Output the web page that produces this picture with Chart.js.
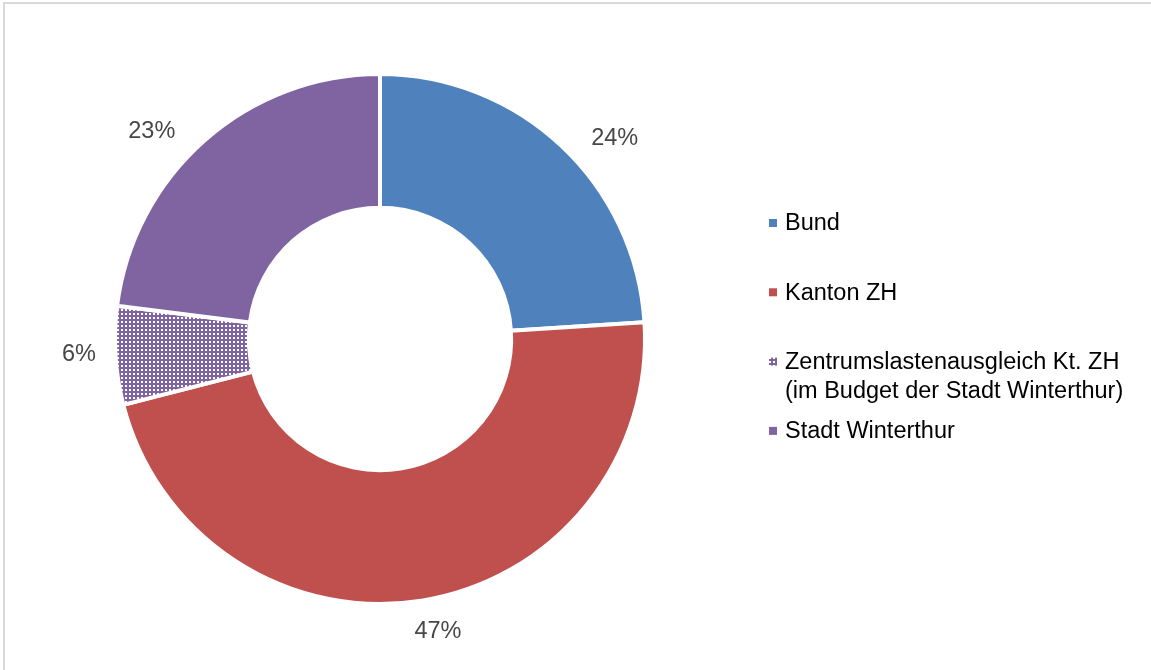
<!DOCTYPE html>
<html>
<head>
<meta charset="utf-8">
<script src="https://cdn.jsdelivr.net/npm/chart.js@4/dist/chart.umd.min.js"></script>
<style>
  html, body { margin: 0; padding: 0; background: #fff; }
  #wrap {
    position: absolute; left: 0; top: 0; width: 1151px; height: 670px;
  }
  #frame {
    position: absolute; left: 3px; top: 2px; right: 0; bottom: 0;
    border-top: 2px solid #d9d9d9; border-left: 2px solid #d9d9d9;
  }
  canvas { position: absolute; left: 0; top: 0; }
</style>
</head>
<body>
<div id="wrap">
  <div id="frame"></div>
  <canvas id="c" width="1151" height="670"></canvas>
</div>
<script>
// Finanzierungsanteile (in %)
const labels = [
  ['Bund'],
  ['Kanton ZH'],
  ['Zentrumslastenausgleich Kt. ZH', '(im Budget der Stadt Winterthur)'],
  ['Stadt Winterthur'],
];
const values = [24, 47, 6, 23];
const colors = ['#4f81bd', '#c0504d', 'dots', '#8064a2'];

const FONT = '"Liberation Sans", Arial, sans-serif';

// dotted fill used for the Zentrumslastenausgleich slice
function dotPattern(ctx) {
  const t = document.createElement('canvas');
  t.width = 4; t.height = 4;
  const g = t.getContext('2d');
  g.fillStyle = '#8064a2';
  g.fillRect(0, 0, 4, 4);
  g.fillStyle = '#ffffff';
  g.fillRect(1, 1, 2, 2);
  return ctx.createPattern(t, 'repeat');
}

const ctx = document.getElementById('c').getContext('2d');
const fills = colors.map(c => c === 'dots' ? dotPattern(ctx) : c);

// percentage labels just outside the ring, pulled a bit towards the horizontal
const outsideLabels = {
  id: 'outsideLabels',
  afterDatasetsDraw(chart) {
    const c = chart.ctx;
    const arcs = chart.getDatasetMeta(0).data;
    c.save();
    c.font = '23.5px ' + FONT;
    c.fillStyle = '#474747';
    c.textAlign = 'center';
    c.textBaseline = 'middle';
    arcs.forEach((a, i) => {
      const mid = (a.startAngle + a.endAngle) / 2;
      const ang = Math.atan2(Math.sin(mid) * 0.8, Math.cos(mid));
      const txt = values[i] + '%';
      const hw = c.measureText(txt).width / 2, hh = 10;
      const dx = Math.cos(ang), dy = Math.sin(ang);
      const r = a.outerRadius + 19 + Math.abs(dx) * hw + Math.abs(dy) * hh;
      c.fillText(txt, a.x + dx * r, a.y + dy * r);
    });
    c.restore();
  }
};

// legend on the right, drawn on the same canvas
const sideLegend = {
  id: 'sideLegend',
  afterDraw(chart) {
    const c = chart.ctx;
    const x0 = 769, y0 = 223, pitch = 69.3, lineH = 29, box = 8;
    c.save();
    c.font = '23.5px ' + FONT;
    c.textBaseline = 'middle';
    labels.forEach((lines, i) => {
      const y = y0 + i * pitch;
      c.fillStyle = fills[i];
      c.fillRect(x0, y - box / 2, box, box);
      c.fillStyle = '#000';
      lines.forEach((ln, k) => c.fillText(ln, x0 + 16, y + k * lineH + 1));
    });
    c.restore();
  }
};

new Chart(ctx, {
  type: 'doughnut',
  data: {
    labels: labels.map(l => l.join(' ')),
    datasets: [{
      data: values,
      backgroundColor: fills,
      borderColor: '#ffffff',
      borderWidth: 4,
    }]
  },
  options: {
    responsive: false,
    animation: false,
    cutout: '49.5%',
    layout: { padding: { left: 113, right: 504, top: 72, bottom: 64 } },
    plugins: {
      legend: { display: false },
      tooltip: { enabled: false },
    },
  },
  plugins: [outsideLabels, sideLegend],
});
</script>
</body>
</html>
